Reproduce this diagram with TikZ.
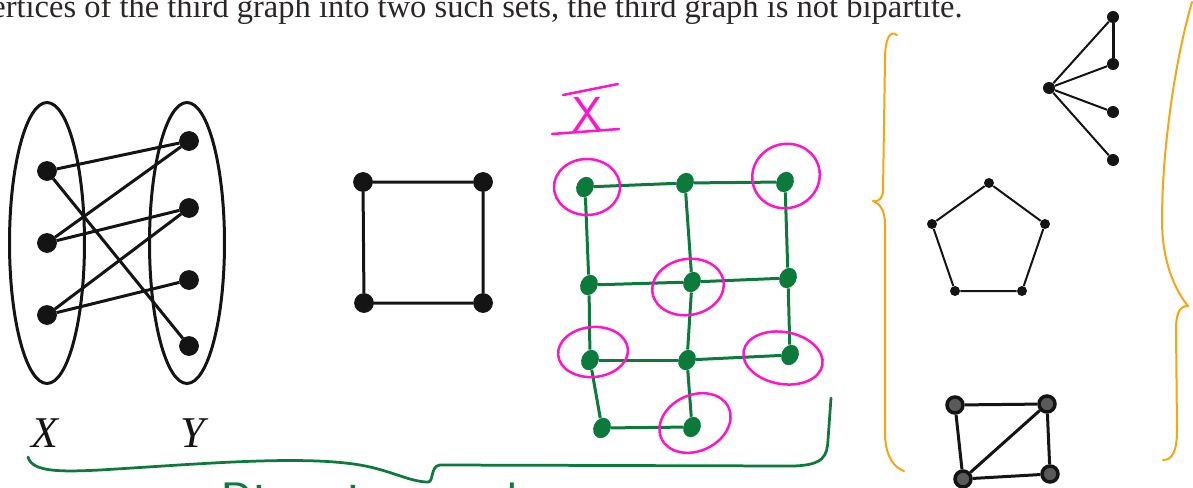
\documentclass[tikz,border=0pt]{standalone}
\usepackage{fontspec}
\setmainfont{Liberation Serif}
\usepackage{xcolor}
\definecolor{colInk}{HTML}{141414}
\definecolor{colText}{HTML}{2A2626}
\definecolor{colGreen}{HTML}{0B7A3B}
\definecolor{colPink}{HTML}{FF14C8}
\definecolor{colOrange}{HTML}{F7A512}
\usetikzlibrary{positioning, shapes.geometric}
\tikzset{
  bdot/.style={circle, fill=colInk, draw=colInk, inner sep=0pt, minimum size=0.38cm},
  sdot/.style={circle, fill=colInk, inner sep=0pt, minimum size=0.24cm},
  pdot/.style={circle, fill=colInk, inner sep=0pt, minimum size=0.2cm},
  odot/.style={circle, draw=colInk, fill=colInk!70, line width=0.07cm, inner sep=0pt, minimum size=0.32cm},
  gdot/.style={ellipse, fill=colGreen, inner sep=0pt, minimum width=0.42cm, minimum height=0.34cm, rotate=65},
  setoval/.style={ellipse, draw=colInk, line width=0.06cm, inner sep=0pt, minimum width=1.5cm, minimum height=5.62cm},
  bedge/.style={colInk, line width=0.06cm},
  tedge/.style={colInk, line width=0.04cm},
  gedge/.style={colGreen, line width=0.06cm},
  pring/.style={colPink, line width=0.05cm, line cap=round},
  brace/.style={line width=0.04cm, line cap=round, line join=round}
}

\begin{document}
\begin{tikzpicture}[x=0.02cm, y=-0.02cm]
    \useasboundingbox (0,0) rectangle (1193,487);
    % Testo
    \node[anchor=base east, inner sep=0pt, colText, font=\fontsize{18.5}{22}\selectfont] (riga) at (963,17)
        {vertices of the third graph into two such sets, the third graph is not bipartite.};
    % Grafo bipartito
    \node[setoval] (setX) at (47,243) {};
    \node[setoval] (setY) at (187,243) {};
    \foreach \n/\py in {x1/171, x2/243, x3/315}{
        \node[bdot] (\n) at (47,\py) {};}
    \foreach \n/\py in {y1/141, y2/208, y3/280, y4/346}{
        \node[bdot] (\n) at (189,\py) {};}
    \foreach \a/\b in {x1/y1, x1/y4, x2/y1, x2/y2, x3/y2, x3/y3}{
        \draw[bedge] (\a) -- (\b);}
    \node[colInk, font=\fontsize{25}{30}\selectfont\itshape] (labX) at (45,433) {X};
    \node[colInk, font=\fontsize{25}{30}\selectfont\itshape] (labY) at (193,433) {Y};
    % Quadrato
    \foreach \n/\px/\py in {sq1/363/182, sq2/483/182, sq3/483/303, sq4/364/303}{
        \node[bdot] (\n) at (\px,\py) {};}
    \draw[bedge] (sq1) -- (sq2) -- (sq3) -- (sq4) -- (sq1);
    % Griglia (verde)
    \foreach \n/\px/\py in {g11/585/187, g12/685/183, g13/785/182,
                            g21/589/285, g22/692/282, g23/788/278,
                            g31/590/360, g32/687/360, g33/790/355,
                            g41/602/428, g42/692/427}{
        \node[gdot] (\n) at (\px,\py) {};}
    \foreach \a/\b in {g11/g12, g12/g13, g21/g22, g22/g23, g31/g32, g32/g33, g41/g42,
                       g11/g21, g21/g31, g31/g41, g12/g22, g22/g32, g32/g42, g13/g23, g23/g33}{
        \draw[gedge] (\a) -- (\b);}
    % Insieme X (rosa)
    \node[colPink, font=\fontsize{28}{30}\selectfont\sffamily] (labI) at (588,114) {X};
    \draw[pring] (563,95) -- (618,84);
    \draw[pring] (552,134) -- (619,129);
    \foreach \cx/\cy/\rx/\ry/\ang in {587/187/33/28/0, 786/176/34/32/20, 688/287/36/28/10,
                                      593/352/35/25/5, 783/358/40/26/-10, 695/423/37/28/25}{
        \draw[pring, rotate around={\ang:(\cx,\cy)}] (\cx,\cy) ellipse [x radius=\rx, y radius=\ry];}
    % Parentesi verde
    \draw[brace, colGreen, line width=0.055cm] (28,457) .. controls (32,472) and (60,472) .. (100,470)
        .. controls (200,464) and (300,455) .. (360,465)
        .. controls (390,470) and (410,482) .. (428,482)
        .. controls (434,482) and (430,466) .. (440,465)
        -- (790,466) .. controls (825,466) and (827,455) .. (828,440) -- (831,398);
    \node[colGreen, anchor=north west, inner sep=0pt, font=\fontsize{30}{32}\selectfont\sffamily] (didas) at (220,483) {Bipartite graphs};
    % Stella
    \node[sdot] (s0) at (1049,88) {};
    \foreach \n/\py in {s1/17, s2/64, s3/112, s4/160}{
        \node[sdot] (\n) at (1113,\py) {};
        \draw[tedge] (s0) -- (\n);}
    \draw[bedge] (s1) -- (s2);
    % Pentagono
    \foreach \n/\px/\py in {p1/989/183, p2/1045/224, p3/1022/291, p4/955/291, p5/932/224}{
        \node[pdot] (\n) at (\px,\py) {};}
    \draw[tedge] (p1) -- (p2) -- (p3) -- (p4) -- (p5) -- (p1);
    % Quadrato con diagonale
    \foreach \n/\px/\py in {q1/955/405, q2/1047/404, q3/1050/474, q4/963/479}{
        \node[odot] (\n) at (\px,\py) {};}
    \draw[bedge] (q1) -- (q2) -- (q3) -- (q4) -- (q1);
    \draw[bedge] (q2) -- (q4);
    % Parentesi arancioni
    \draw[brace, colOrange] (897,35) .. controls (890,30) and (885,38) .. (885,60)
        -- (883,190) .. controls (883,198) and (879,202) .. (873,201)
        .. controls (880,204) and (885,210) .. (885,225)
        -- (885,436) .. controls (886,458) and (895,468) .. (904,471);
    \draw[brace, colOrange] (1192,2) .. controls (1175,60) and (1162,150) .. (1162,220)
        .. controls (1162,262) and (1175,290) .. (1188,306)
        .. controls (1180,306) and (1176,312) .. (1176,330)
        -- (1177,430) .. controls (1177,452) and (1172,460) .. (1163,460);
\end{tikzpicture}
\end{document}
